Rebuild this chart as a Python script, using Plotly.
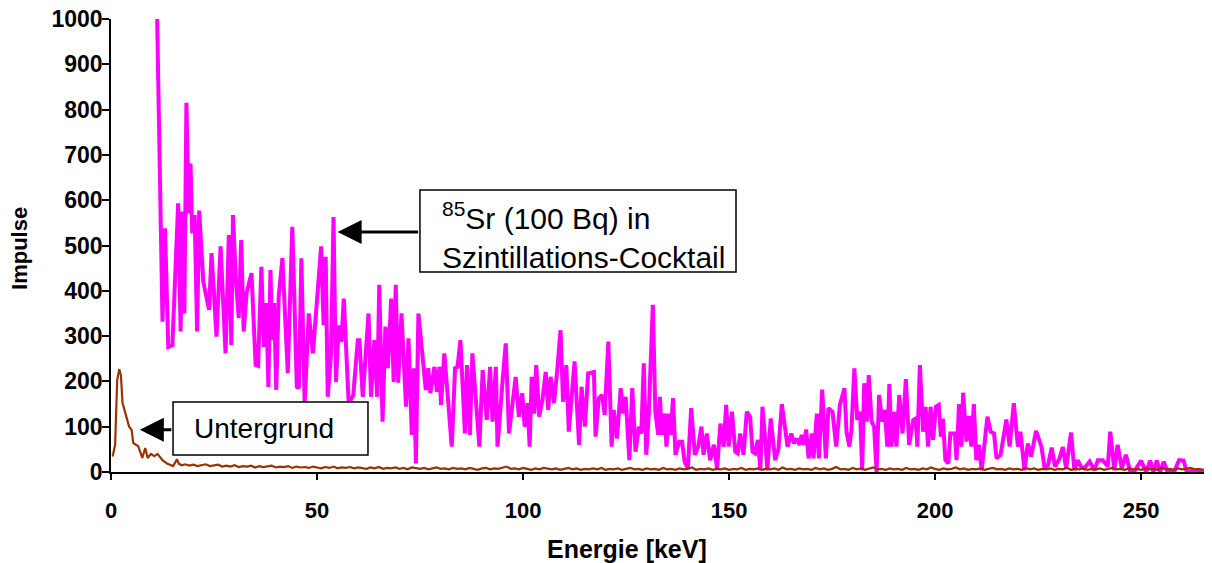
import plotly.graph_objects as go

# ---- Sr-85 spectrum (magenta) ----
sr_energy = [
    11.2, 12.5, 13.1, 13.9, 14.9, 15.5, 16.3, 16.9, 17.3, 17.8, 18.3, 18.9, 19.3, 19.7, 20.3, 20.9, 21.4,
    22.4, 23.8, 24.4, 25.6, 26.6, 27.8, 28.6, 29.2, 29.6, 30.3, 31.0, 31.6, 32.2, 32.9, 34.1, 35.1, 35.7,
    36.5, 37.1, 37.7, 38.2, 38.7, 39.1, 39.6, 40.1, 40.7, 41.6, 42.9, 44.0, 45.1, 45.6, 46.2, 47.0, 48.0,
    49.0, 49.8, 51.0, 51.6, 52.1, 52.6, 53.4, 54.0, 54.6, 55.3, 55.9, 56.5, 57.7, 58.8, 59.9,
    60.3, 61.1, 62.5, 63.1, 63.9, 64.6, 65.1, 65.9, 66.6, 67.2, 68.0, 68.6, 69.1, 69.7, 70.5, 71.6, 72.2,
    73.0, 73.5, 74.0, 74.6, 75.6, 76.4, 77.0, 77.5, 78.5, 79.1, 79.7, 80.1, 80.9, 81.8, 82.7, 83.5, 84.1,
    84.8, 85.3, 85.9, 86.4, 87.1, 87.7, 88.5, 89.4, 90.2, 91.2, 92.0, 92.6, 93.4, 93.8, 95.0, 95.8, 96.6,
    97.7, 98.2, 99.0, 99.8, 100.4, 101.1, 101.6, 102.1, 102.7, 103.2, 103.9, 104.7, 105.5, 106.1, 106.7,
    107.5, 108.3, 109.1, 109.7, 110.5, 111.1, 112.5, 113.6, 114.2, 115.0, 115.8, 117.2, 117.6, 118.4,
    119.2, 119.8, 120.7, 121.5, 122.0, 122.8, 123.7, 124.3, 124.9, 125.8, 126.5, 127.3, 128.1, 128.7,
    129.3, 129.9, 130.5, 131.5, 132.1, 132.8, 133.2, 133.7, 134.4, 134.8, 135.4, 135.8, 136.4, 137.0,
    137.9, 138.6, 139.2, 140.0, 140.8, 141.7, 142.5, 143.3, 143.8, 144.6, 145.4, 146.3, 147.1, 147.9,
    148.7, 149.3, 149.9, 150.7, 151.5, 152.1, 152.7, 153.5, 154.3, 155.1, 155.7, 156.3, 157.0, 157.6,
    158.1, 158.9, 159.3, 160.1, 161.2, 162.0, 162.8, 164.2, 165.1, 165.8, 166.4, 167.1, 167.6, 168.2,
    168.7, 169.3, 170.1, 170.5, 171.3, 171.8, 172.6, 173.5, 174.1, 175.1, 176.0, 176.9, 178.0, 178.5,
    179.2, 179.7, 180.4, 181.1, 181.8, 182.3, 182.8, 183.4, 183.9, 184.6, 185.2, 185.8, 186.4, 187.2,
    187.8, 188.4, 188.9, 189.4, 190.1, 190.6, 191.3, 192.1, 192.9, 193.7, 194.7, 195.3, 195.7, 196.3,
    197.1, 197.7, 198.3, 198.9, 199.5, 200.2, 200.9, 201.4, 201.9, 202.5, 203.2, 203.7, 204.8, 205.2,
    205.8, 206.4, 206.8, 207.6, 208.2, 208.8, 209.4, 210.0, 210.6, 211.3, 212.7, 213.5, 214.3, 214.9,
    215.9, 217.3, 218.1, 219.1, 220.1, 220.7, 221.7, 222.5, 223.3, 224.5, 225.8, 226.6, 227.4, 228.3,
    229.1, 230.2, 231.0, 231.8, 233.0, 233.8, 234.6, 235.4, 236.2, 237.5, 238.7, 239.5, 240.7, 241.9,
    242.5, 243.5, 244.3, 245.3, 246.3, 247.4, 248.4, 250.0, 251.2, 252.2, 253.0, 253.8, 254.6, 255.5,
    256.4, 258.0, 259.2, 260.3, 261.1, 262.1, 263.7, 266.1,
]
sr_counts = [
    1000, 332, 538, 276, 280, 424, 593, 310, 575, 350, 815, 571, 681, 527, 567, 310, 577,
    420, 358, 483, 299, 498, 262, 523, 280, 567, 424, 340, 512, 310, 395, 439, 236, 234,
    453, 276, 373, 188, 446, 291, 373, 181, 387, 472, 218, 541, 188, 185, 472, 150, 350,
    262, 358, 498, 324, 475, 166, 260, 563, 199, 324, 287, 383, 150, 170, 291,
    291, 166, 350, 166, 291, 166, 413, 111, 321, 229, 383, 199, 413, 197, 350, 144, 295,
    82, 229, 19, 350, 262, 181, 229, 174, 232, 177, 232, 148, 262, 159, 56, 229, 232,
    291, 174, 85, 236, 82, 262, 152, 56, 225, 115, 232, 111, 232, 56, 197, 284, 85,
    166, 210, 122, 174, 100, 152, 56, 210, 129, 236, 122, 159, 221, 137, 210,
    152, 225, 313, 155, 236, 89, 244, 60, 188, 100, 218, 221, 78, 163,
    170, 126, 288, 56, 137, 74, 185, 129, 166, 26, 185, 45, 100, 85,
    240, 38, 126, 369, 133, 82, 166, 82, 129, 56, 129, 82, 163, 38,
    67, 67, 23, 8, 141, 38, 56, 100, 38, 85, 26, 60, 8, 107,
    56, 148, 56, 133, 45, 41, 85, 38, 133, 122, 45, 41, 71, 4,
    144, 56, 4, 118, 26, 52, 150, 56, 85, 63, 74, 60, 82, 60,
    94, 30, 85, 30, 129, 30, 182, 30, 141, 133, 56, 148, 185, 89,
    56, 93, 229, 115, 133, 4, 196, 111, 214, 111, 100, 0, 170, 111,
    137, 56, 194, 56, 133, 56, 170, 85, 205, 60, 115, 118, 56, 236,
    89, 144, 56, 144, 71, 144, 148, 78, 118, 26, 19, 85, 85, 26,
    150, 56, 175, 67, 124, 56, 150, 26, 60, 4, 122, 89, 85, 30,
    38, 116, 56, 152, 56, 89, 4, 63, 34, 91, 56, 8, 15, 54,
    12, 30, 55, 8, 87, 4, 26, 12, 8, 23, 4, 26, 26, 12,
    89, 4, 60, 8, 38, 0, 2, 25, 0, 25, 0, 25, 0, 23,
    0, 0, 26, 25, 0, 2, 0, 2,
]

# ---- Background (brown) ----
bg_energy = [0.4, 1.0, 1.5, 2.0, 2.4, 2.8, 3.6, 4.4, 5.0, 5.4, 6.6, 7.6, 8.3, 8.9, 9.7, 10.5,
             11.3, 12.5, 13.7, 15.1, 16.0, 16.5, 17.2] + list(range(18, 267))
bg_counts = [34, 60, 203, 227, 214, 152, 126, 100, 93, 64, 57, 31, 53, 31, 40, 35,
             40, 26, 18, 13, 28, 18, 15,
             17, 14, 16, 13, 15, 17, 13, 14, 16, 12,
             14, 12, 15, 11, 13, 12, 14, 10, 13, 11,
             12, 14, 10, 12, 11, 13, 9, 12, 10, 11,
             9, 12, 10, 8, 11, 9, 12, 8, 10, 9,
             11, 8, 10, 9, 7, 10, 8, 11, 7, 9,
             8, 10, 7, 9, 6, 10, 8, 7, 9, 6,
             8, 10, 7, 8, 6, 9, 7, 8, 6, 9,
             7, 5, 8, 9, 6, 8, 7, 10, 12, 7,
             8, 6, 9, 7, 5, 8, 6, 9, 7, 6,
             8, 5, 7, 9, 6, 8, 5, 7, 6, 8,
             6, 9, 5, 7, 6, 8, 5, 7, 9, 6,
             7, 5, 8, 6, 7, 5, 9, 6, 7, 5,
             8, 6, 7, 10, 5, 7, 6, 8, 5, 7,
             6, 8, 5, 7, 6, 9, 5, 7, 6, 8,
             5, 7, 6, 8, 5, 10, 6, 7, 5, 8,
             6, 7, 5, 9, 6, 8, 5, 7, 11, 6,
             7, 5, 9, 6, 8, 5, 7, 10, 6, 7,
             5, 8, 6, 7, 5, 9, 6, 7, 5, 8,
             6, 10, 7, 5, 8, 6, 7, 10, 6, 8,
             5, 7, 6, 8, 5, 7, 9, 6, 7, 5,
             8, 6, 7, 5, 9, 6, 8, 5, 7, 6,
             8, 5, 7, 6, 9, 5, 7, 6, 8, 5,
             7, 6, 8, 5, 7, 9, 6, 7, 5, 8,
             6, 7, 5, 8, 6, 7, 5, 9, 6, 7,
             5, 8, 6, 7, 9, 6, 7, 5, 6]

x_ticks = [0, 50, 100, 150, 200, 250]
y_ticks = [0, 100, 200, 300, 400, 500, 600, 700, 800, 900, 1000]

FONT = "Arial, Liberation Sans, sans-serif"

fig = go.Figure()
fig.add_trace(go.Scatter(x=sr_energy, y=sr_counts, mode="lines",
                         line=dict(color="#FF00FF", width=4), showlegend=False))
fig.add_trace(go.Scatter(x=bg_energy, y=bg_counts, mode="lines",
                         line=dict(color="#993300", width=2.2), showlegend=False))

# page body adds an 8px margin, so the figure is 8px smaller and margins shifted
fig.update_layout(
    width=1204, height=555,
    margin=dict(l=103, r=7, t=11, b=91, autoexpand=False),
    paper_bgcolor="white", plot_bgcolor="white",
    font=dict(family=FONT, color="black"),
    xaxis=dict(range=[0, 265.5], tickvals=x_ticks, ticktext=[str(v) for v in x_ticks],
               automargin=False, ticklabeloverflow="allow",
               showgrid=False, zeroline=False, showline=True, linecolor="black", linewidth=1.5,
               ticks="outside", ticklen=6, tickwidth=1.5, tickcolor="black",
               tickfont=dict(family=FONT, size=22, weight="bold"), ticklabelstandoff=12),
    yaxis=dict(range=[0, 1000], tickvals=y_ticks, ticktext=[str(v) for v in y_ticks],
               automargin=False, ticklabeloverflow="allow",
               showgrid=False, zeroline=False, showline=True, linecolor="black", linewidth=1.5,
               ticks="outside", ticklen=7, tickwidth=1.5, tickcolor="black",
               tickfont=dict(family=FONT, size=23, weight="bold"), ticklabelstandoff=-5),
)

# axis titles
fig.add_annotation(text="<b>Energie [keV]</b>", xref="paper", yref="paper",
                   x=0.4717, y=-0.170, showarrow=False, xanchor="center", yanchor="middle",
                   font=dict(family=FONT, size=25, color="black"))
fig.add_annotation(text="<b>Impulse</b>", xref="paper", yref="paper",
                   x=-0.0832, y=0.4945, showarrow=False, textangle=-90,
                   xanchor="center", yanchor="middle",
                   font=dict(family=FONT, size=22, color="black"))

# text boxes (white rectangles above the traces)
fig.add_shape(type="rect", xref="paper", yref="paper", x0=0.0567, x1=0.2349, y0=0.0375, y1=0.1545,
              line=dict(color="black", width=1.5), fillcolor="white", layer="above")
fig.add_shape(type="rect", xref="paper", yref="paper", x0=0.2824, x1=0.5713, y0=0.4415, y1=0.6225,
              line=dict(color="black", width=1.5), fillcolor="white", layer="above")

fig.add_annotation(text="Untergrund", xref="paper", yref="paper", x=0.0740, y=0.0971,
                   showarrow=False, xanchor="left", yanchor="middle",
                   font=dict(family=FONT, size=28, color="black"))
fig.add_annotation(text="<sup>85</sup>Sr (100 Bq) in<br>Szintillations-Cocktail",
                   xref="paper", yref="paper", x=0.3007, y=0.521, align="left",
                   showarrow=False, xanchor="left", yanchor="middle",
                   font=dict(family=FONT, size=30, color="black"))

# arrows
fig.add_annotation(x=7.0, y=93, xref="x", yref="y", text="", showarrow=True,
                   ax=33, ay=0, arrowhead=2, arrowsize=1.6, arrowwidth=3, arrowcolor="black")
fig.add_annotation(x=55.0, y=530, xref="x", yref="y", text="", showarrow=True,
                   ax=82, ay=0, arrowhead=2, arrowsize=1.6, arrowwidth=3, arrowcolor="black")

fig.write_html("out.html")
